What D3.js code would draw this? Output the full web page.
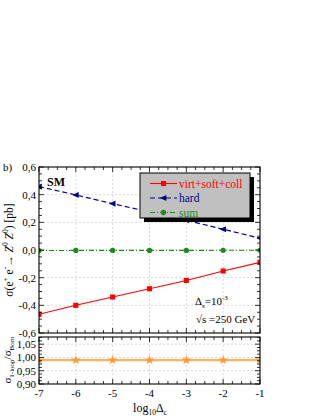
<!DOCTYPE html>
<html>
<head>
<meta charset="utf-8">
<script src="https://cdn.jsdelivr.net/npm/d3@7"></script>
<style>
  body { margin: 0; background: #fff; }
  svg { display: block; font-family: 'Liberation Serif', 'Times New Roman', serif; }
</style>
</head>
<body>
<svg id="chart" width="324" height="419"></svg>
<script>
// data
const logDc = [-7, -6, -5, -4, -3, -2, -1]
const virtSoftColl = [-0.465, -0.40, -0.34, -0.28, -0.22, -0.152, -0.089]
const hard = [0.458, 0.398, 0.335, 0.275, 0.215, 0.15, 0.085]
const sum = [-0.004, -0.003, -0.003, -0.003, -0.003, -0.002, -0.002]
const ratio = [0.99, 0.99, 0.99, 0.99, 0.99, 0.99, 0.99]

const xTicks = [-7, -6, -5, -4, -3, -2, -1]
const yTicksMain = [-0.6, -0.4, -0.2, 0, 0.2, 0.4, 0.6]
const yTicksRatio = [0.90, 0.95, 1.00, 1.05]

const series = [
    { name: 'virt+soft+coll', values: virtSoftColl, color: '#ff0000', dash: null, symbol: d3.symbolSquare, size: 26, width: 1.1 },
    { name: 'hard', values: hard, color: '#00008b', dash: '5,3', symbol: 'triLeft', size: 26, width: 1.2 },
    { name: 'sum', values: sum, color: '#1a8c1a', dash: '5,2,1,2', symbol: d3.symbolCircle, size: 22, width: 1.1 },
]

const svg = d3.select('#chart')

const left = 39, right = 260
const main = { top: 167, bottom: 333 }
const low = { top: 337, bottom: 384 }

const x = d3.scaleLinear().domain([-7, -1]).range([left, right])
const y = d3.scaleLinear().domain([-0.6, 0.6]).range([main.bottom, main.top])
const yr = d3.scaleLinear().domain([0.9, 1.077]).range([low.bottom, low.top])

const comma = d => d3.format('.1f')(d).replace('.', ',').replace('−', '-')
const comma2 = d => d3.format('.2f')(d).replace('.', ',')

// left-pointing triangle
const triLeft = {
    draw(ctx, size) {
        const r = Math.sqrt(size) * 0.7
        ctx.moveTo(-r, 0)
        ctx.lineTo(r * 0.8, -r * 0.85)
        ctx.lineTo(r * 0.8, r * 0.85)
        ctx.closePath()
    }
}

function symbolPath(s) {
    const type = s.symbol === 'triLeft' ? triLeft : s.symbol
    return d3.symbol().type(type).size(s.size)()
}

// clip paths
const defs = svg.append('defs')
defs.append('clipPath').attr('id', 'clipMain')
    .append('rect').attr('x', left).attr('y', main.top)
    .attr('width', right - left).attr('height', main.bottom - main.top)
defs.append('clipPath').attr('id', 'clipLow')
    .append('rect').attr('x', left).attr('y', low.top)
    .attr('width', right - left).attr('height', low.bottom - low.top)

function grid(g, yScale, yVals, top, bottom) {
    g.selectAll('.vg').data(xTicks.slice(1, -1)).join('line')
        .attr('x1', d => x(d)).attr('x2', d => x(d))
        .attr('y1', top).attr('y2', bottom)
        .attr('stroke', '#c8c8c8').attr('stroke-width', 0.7).attr('stroke-dasharray', '2,2')
    g.selectAll('.hg').data(yVals).join('line')
        .attr('x1', left).attr('x2', right)
        .attr('y1', d => yScale(d)).attr('y2', d => yScale(d))
        .attr('stroke', '#c8c8c8').attr('stroke-width', 0.7).attr('stroke-dasharray', '2,2')
}

function frameTicks(yScale, major, minor, top, bottom) {
    const g = svg.append('g')
    const xMinor = d3.range(-7, -0.99, 0.25)
    // x ticks top & bottom
    xMinor.forEach(v => {
        const isMajor = Math.abs(v - Math.round(v)) < 1e-6
        const len = isMajor ? 5 : 3
        g.append('line').attr('x1', x(v)).attr('x2', x(v)).attr('y1', bottom).attr('y2', bottom - len)
            .attr('stroke', '#000').attr('stroke-width', 0.8)
        g.append('line').attr('x1', x(v)).attr('x2', x(v)).attr('y1', top).attr('y2', top + len)
            .attr('stroke', '#000').attr('stroke-width', 0.8)
    })
    const [d0, d1] = yScale.domain()
    for (let v = d0; v <= d1 + 1e-9; v += minor) {
        const isMajor = Math.abs(v / major - Math.round(v / major)) < 1e-6
        const len = isMajor ? 5 : 3
        g.append('line').attr('x1', left).attr('x2', left + len).attr('y1', yScale(v)).attr('y2', yScale(v))
            .attr('stroke', '#000').attr('stroke-width', 0.8)
        g.append('line').attr('x1', right).attr('x2', right - len).attr('y1', yScale(v)).attr('y2', yScale(v))
            .attr('stroke', '#000').attr('stroke-width', 0.8)
    }
    g.append('rect').attr('x', left).attr('y', top)
        .attr('width', right - left).attr('height', bottom - top)
        .attr('fill', 'none').attr('stroke', '#000').attr('stroke-width', 1.1)
}

// ---- main panel
grid(svg.append('g'), y, [-0.4, -0.2, 0, 0.2, 0.4], main.top, main.bottom)

const line = d3.line().x((d, i) => x(logDc[i])).y(d => y(d))
const plot = svg.append('g').attr('clip-path', 'url(#clipMain)')
series.forEach(s => {
    plot.append('path').attr('d', line(s.values))
        .attr('fill', 'none').attr('stroke', s.color).attr('stroke-width', s.width)
        .attr('stroke-dasharray', s.dash)
    plot.selectAll(null).data(s.values).join('path')
        .attr('d', symbolPath(s))
        .attr('transform', (d, i) => `translate(${x(logDc[i])},${y(d)})`)
        .attr('fill', s.color)
})

frameTicks(y, 0.2, 0.05, main.top, main.bottom)

svg.append('g').selectAll('text').data(yTicksMain).join('text')
    .attr('x', left - 3).attr('y', d => y(d) + 4)
    .attr('text-anchor', 'end').attr('font-size', 11)
    .text(d => d === 0 ? '0,0' : comma(d))

// legend
const lg = svg.append('g')
lg.append('rect').attr('x', 144).attr('y', 177).attr('width', 110).attr('height', 45).attr('fill', '#000')
lg.append('rect').attr('x', 140).attr('y', 173).attr('width', 110).attr('height', 45)
    .attr('fill', '#c0c0c0').attr('stroke', '#000').attr('stroke-width', 1)
series.forEach((s, i) => {
    const yy = 183.5 + i * 14.5
    lg.append('line').attr('x1', 150).attr('x2', 177).attr('y1', yy).attr('y2', yy)
        .attr('stroke', s.color).attr('stroke-width', s.width).attr('stroke-dasharray', s.dash)
    lg.append('path').attr('d', symbolPath(s)).attr('transform', `translate(163.5,${yy})`).attr('fill', s.color)
    lg.append('text').attr('x', 179).attr('y', yy + 4).attr('font-size', 11.5)
        .attr('fill', s.color).text(s.name)
})

svg.append('text').attr('x', 47).attr('y', 186).attr('font-size', 12).attr('font-weight', 'bold').text('SM')
svg.append('text').attr('x', 3).attr('y', 171).attr('font-size', 11).text('b)')

const ann = svg.append('g').attr('font-size', 11)
const t1 = ann.append('text').attr('x', 195).attr('y', 305)
t1.append('tspan').text('Δ')
t1.append('tspan').attr('font-size', 7).attr('dy', 3).text('s')
t1.append('tspan').attr('dy', -3).text('=10')
t1.append('tspan').attr('font-size', 7).attr('dy', -5).text('-3')
const t2 = ann.append('text').attr('x', 196).attr('y', 323)
t2.append('tspan').text('√s =250 GeV')

// y label main
const yl = svg.append('text').attr('transform', 'translate(13,250) rotate(-90)')
    .attr('text-anchor', 'middle').attr('font-size', 11.5)
yl.append('tspan').text('σ(e')
yl.append('tspan').attr('font-size', 7.5).attr('dy', -5).text('+')
yl.append('tspan').attr('dy', 5).text(' e')
yl.append('tspan').attr('font-size', 7.5).attr('dy', -5).text('-')
yl.append('tspan').attr('dy', 5).text('→ ')
yl.append('tspan').attr('font-style', 'italic').text('Z')
yl.append('tspan').attr('font-size', 7.5).attr('dy', -5).text('0')
yl.append('tspan').attr('dy', 5).attr('font-style', 'italic').text(' Z')
yl.append('tspan').attr('font-size', 7.5).attr('dy', -5).text('0')
yl.append('tspan').attr('dy', 5).text(') [pb]')

// ---- ratio panel
grid(svg.append('g'), yr, [0.95, 1.00, 1.05], low.top, low.bottom)

const rline = d3.line().x((d, i) => x(logDc[i])).y(d => yr(d))
const rplot = svg.append('g').attr('clip-path', 'url(#clipLow)')
rplot.append('path').attr('d', rline(ratio))
    .attr('fill', 'none').attr('stroke', '#ffb060').attr('stroke-width', 2.2)
rplot.selectAll(null).data(ratio).join('path')
    .attr('d', d3.symbol().type(d3.symbolStar).size(30)())
    .attr('transform', (d, i) => `translate(${x(logDc[i])},${yr(d)})`)
    .attr('fill', '#ff9a30')

frameTicks(yr, 0.05, 0.0125, low.top, low.bottom)

svg.append('g').selectAll('text').data(yTicksRatio).join('text')
    .attr('x', left - 3).attr('y', d => yr(d) + 4)
    .attr('text-anchor', 'end').attr('font-size', 11)
    .text(d => comma2(d))

svg.append('g').selectAll('text').data(xTicks).join('text')
    .attr('x', d => x(d)).attr('y', 397)
    .attr('text-anchor', 'middle').attr('font-size', 11)
    .text(d => String(d))

const rl = svg.append('text').attr('transform', 'translate(11,360) rotate(-90)')
    .attr('text-anchor', 'middle').attr('font-size', 11)
rl.append('tspan').text('σ')
rl.append('tspan').attr('font-size', 7).attr('dy', 2.5).text('1-loop')
rl.append('tspan').attr('dy', -2.5).text('/σ')
rl.append('tspan').attr('font-size', 7).attr('dy', 2.5).text('Born')

const xl = svg.append('text').attr('x', 150).attr('y', 412).attr('text-anchor', 'middle').attr('font-size', 12)
xl.append('tspan').text('log')
xl.append('tspan').attr('font-size', 7.5).attr('dy', 3).text('10')
xl.append('tspan').attr('dy', -3).text('Δ')
xl.append('tspan').attr('font-size', 7.5).attr('dy', 3).text('c')
</script>
</body>
</html>
